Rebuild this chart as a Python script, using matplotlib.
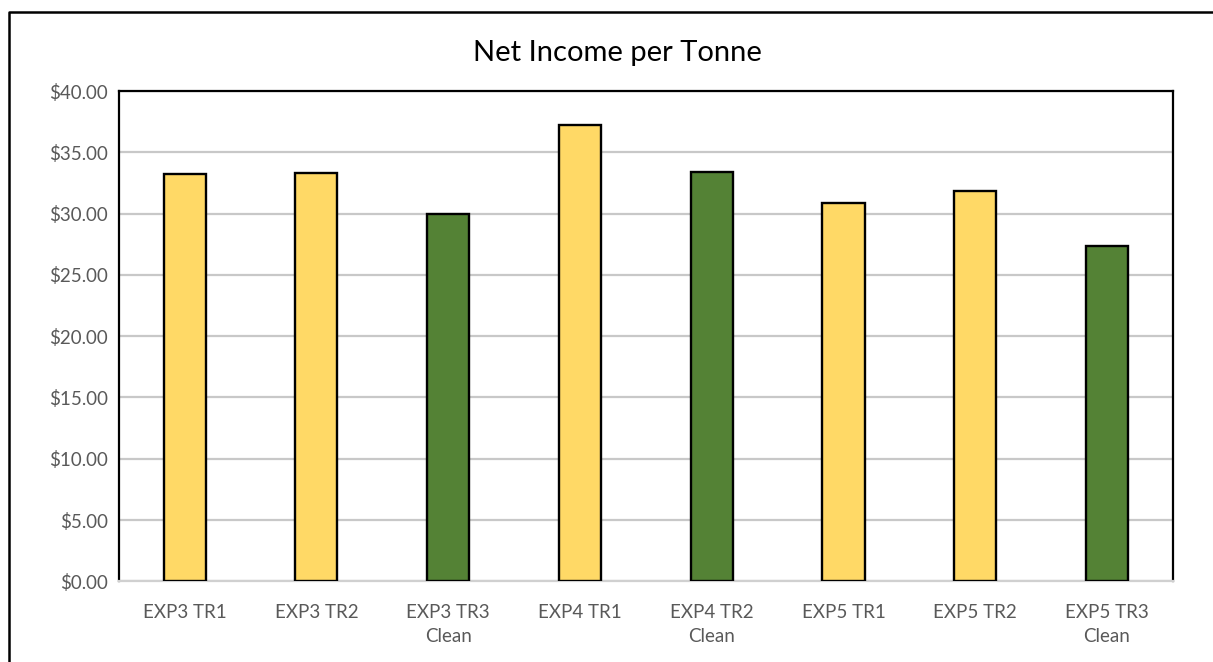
import matplotlib
matplotlib.use("Agg")
import matplotlib.pyplot as plt
from matplotlib.lines import Line2D
from matplotlib.ticker import FuncFormatter, MultipleLocator

plt.rcParams["font.family"] = ["Lato", "DejaVu Sans"]

categories = ["EXP3 TR1", "EXP3 TR2", "EXP3 TR3\nClean", "EXP4 TR1", "EXP4 TR2\nClean",
              "EXP5 TR1", "EXP5 TR2", "EXP5 TR3\nClean"]
net_income = [33.2, 33.3, 30.0, 37.2, 33.4, 30.9, 31.85, 27.35]
clean = [False, False, True, False, True, False, False, True]

yellow = "#FFD966"
green = "#548235"
colors = [green if c else yellow for c in clean]

fig = plt.figure(figsize=(12.13, 6.62), dpi=100)
ax = fig.add_axes([0.0979, 0.1219, 0.869, 0.7406])

x = range(len(categories))
ax.bar(x, net_income, width=0.32, color=colors, edgecolor="black", linewidth=1.7, zorder=3)

ax.set_xlim(-0.5, len(categories) - 0.5)
ax.set_ylim(0, 40)
ax.yaxis.set_major_locator(MultipleLocator(5))
ax.yaxis.set_major_formatter(FuncFormatter(lambda v, p: f"${v:.2f}"))
ax.set_xticks(list(x))
ax.set_xticklabels(categories, linespacing=1.5)

ax.grid(axis="y", color="#C8C8C8", linewidth=1.6, zorder=0)
ax.tick_params(axis="both", length=0, labelsize=13.5, labelcolor="#595959")
ax.tick_params(axis="x", pad=16)
ax.tick_params(axis="y", pad=8)

for side in ["left", "top", "right"]:
    ax.spines[side].set_color("black")
    ax.spines[side].set_linewidth(1.6)
ax.spines["bottom"].set_color("#D0D0D0")
ax.spines["bottom"].set_linewidth(1.6)

fig.text(617 / 1213, 1 - 53 / 662, "Net Income per Tonne", ha="center", va="center",
         fontsize=21, color="black")

# chart area frame (top and left edges)
fx, fy = 9 / 1213, 1 - 12 / 662
fig.lines.append(Line2D([fx, fx, 1.02], [-0.02, fy, fy], transform=fig.transFigure,
                        color="black", linewidth=1.8, solid_capstyle="butt"))

fig.savefig("out.png", dpi=100)
